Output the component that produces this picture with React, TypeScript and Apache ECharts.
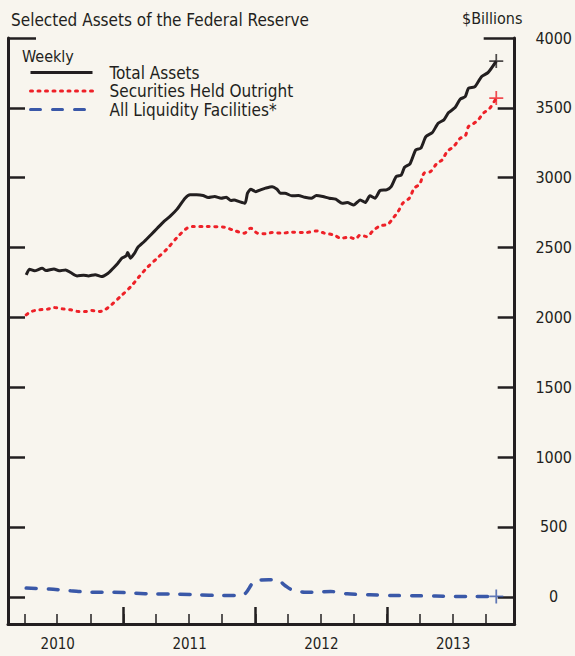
import React, { useEffect, useRef } from "react";
import * as echarts from "echarts";

// ---------- data (weekly, $ billions) ----------
const totalDates = [
  "2010-04-06","2010-04-15","2010-04-29","2010-05-20","2010-05-31","2010-06-22","2010-07-06","2010-07-24",
  "2010-08-07","2010-08-25","2010-09-12","2010-09-25","2010-10-14","2010-11-01","2010-11-19","2010-12-03",
  "2010-12-16","2010-12-27","2011-01-08","2011-01-12","2011-01-20","2011-01-31","2011-02-09","2011-02-27",
  "2011-03-17","2011-04-04","2011-04-22","2011-05-10","2011-05-29","2011-06-20","2011-07-04","2011-07-22",
  "2011-08-09","2011-08-23","2011-09-10","2011-09-28","2011-10-12","2011-10-25","2011-11-03","2011-11-17",
  "2011-12-03","2011-12-10","2011-12-19","2012-01-02","2012-01-15","2012-01-29","2012-02-16","2012-03-01",
  "2012-03-10","2012-03-23","2012-04-11","2012-04-29","2012-05-17","2012-06-04","2012-06-18","2012-07-06",
  "2012-07-24","2012-08-11","2012-08-29","2012-09-12","2012-09-30","2012-10-18","2012-11-01","2012-11-14",
  "2012-11-28","2012-12-12","2012-12-30","2013-01-12","2013-01-26","2013-02-09","2013-02-18","2013-03-05",
  "2013-03-21","2013-04-04","2013-04-18","2013-05-06","2013-05-22","2013-06-07","2013-06-20","2013-07-08",
  "2013-07-22","2013-08-05","2013-08-14","2013-09-01","2013-09-19","2013-10-07","2013-10-30",
];
const totalAssets = [
  2304, 2345, 2333, 2352, 2335, 2347, 2333, 2340,
  2321, 2297, 2302, 2297, 2306, 2292, 2316, 2352,
  2388, 2424, 2440, 2464, 2424, 2459, 2500, 2543,
  2590, 2638, 2686, 2725, 2775, 2853, 2877, 2877,
  2872, 2858, 2865, 2853, 2860, 2836, 2841, 2829,
  2817, 2889, 2917, 2900, 2913, 2925, 2936, 2917,
  2889, 2889, 2870, 2872, 2860, 2853, 2872, 2865,
  2853, 2846, 2817, 2822, 2805, 2841, 2822, 2870,
  2853, 2908, 2913, 2936, 3008, 3020, 3075, 3099,
  3199, 3211, 3294, 3323, 3390, 3414, 3466, 3502,
  3562, 3580, 3640, 3652, 3723, 3752, 3835,
];

const securitiesDates = [
  "2010-04-06","2010-04-20","2010-05-12","2010-06-04","2010-06-22","2010-07-15","2010-08-07","2010-08-29",
  "2010-09-16","2010-10-04","2010-10-27","2010-11-10","2010-11-28","2010-12-25","2011-01-21","2011-02-13",
  "2011-03-08","2011-04-04","2011-05-01","2011-05-29","2011-06-25","2011-07-13","2011-08-18","2011-10-07",
  "2011-10-30","2011-12-01","2011-12-19","2012-01-06","2012-01-29","2012-02-16","2012-03-14","2012-04-11",
  "2012-05-17","2012-06-22","2012-07-10","2012-08-06","2012-08-25","2012-09-16","2012-10-05","2012-10-18",
  "2012-11-05","2012-11-23","2012-12-12","2013-01-03","2013-01-17","2013-01-31","2013-02-13","2013-03-03",
  "2013-03-17","2013-04-01","2013-04-13","2013-05-01","2013-05-19","2013-06-02","2013-06-16","2013-07-04",
  "2013-07-22","2013-08-05","2013-08-14","2013-08-27","2013-09-10","2013-09-24","2013-10-12","2013-10-30",
];
const securitiesHeld = [
  2018, 2042, 2054, 2059, 2070, 2061, 2054, 2042,
  2042, 2049, 2042, 2054, 2090, 2154, 2221, 2292,
  2359, 2424, 2490, 2572, 2638, 2650, 2650, 2646,
  2626, 2603, 2638, 2603, 2598, 2607, 2603, 2610,
  2607, 2619, 2603, 2590, 2567, 2574, 2562, 2590,
  2578, 2621, 2655, 2667, 2710, 2757, 2817, 2853,
  2925, 2955, 3032, 3044, 3104, 3127, 3187, 3223,
  3282, 3299, 3366, 3385, 3414, 3461, 3497, 3570,
];

const liquidityDates = [
  "2010-04-06","2010-06-09","2010-08-07","2010-10-04","2010-12-03","2011-01-31","2011-03-31","2011-05-29",
  "2011-07-27","2011-09-24","2011-11-22","2011-12-05","2011-12-24","2012-01-06","2012-02-07","2012-03-01",
  "2012-03-23","2012-04-11","2012-05-17","2012-06-13","2012-07-28","2012-09-12","2012-11-14","2013-01-17",
  "2013-03-21","2013-05-15","2013-07-08","2013-09-01","2013-10-30",
];
const liquidityFacilities = [
  62, 55, 43, 33, 33, 26, 19, 19,
  14, 9, 9, 26, 98, 117, 122, 122,
  81, 50, 33, 33, 38, 21, 14, 9,
  7, 5, 2, 2, 2,
];

const seriesNames = ["Total Assets", "Securities Held Outright", "All Liquidity Facilities*"];
const yearLabels = ["2010", "2011", "2012", "2013"];
const yearTicks = ["2011-01-01", "2012-01-01", "2013-01-01"];
const quarterTicks = [
  "2010-04-01","2010-07-01","2010-10-01","2011-01-01","2011-04-01","2011-07-01","2011-10-01",
  "2012-01-01","2012-04-01","2012-07-01","2012-10-01","2013-01-01","2013-04-01","2013-07-01","2013-10-01",
];
const yTickValues = [0, 500, 1000, 1500, 2000, 2500, 3000, 3500];
const yLabelValues = [0, 500, 1000, 1500, 2000, 2500, 3000, 3500, 4000];

// ---------- helpers ----------
function toYear(d: string): number {
  const [y, m, day] = d.split("-").map(Number);
  const start = Date.UTC(y, 0, 1);
  const end = Date.UTC(y + 1, 0, 1);
  return y + (Date.UTC(y, m - 1, day) - start) / (end - start);
}
function pairs(dates: string[], vals: number[]): number[][] {
  return dates.map((d, i) => [toYear(d), vals[i]]);
}
function last(dates: string[], vals: number[]): number[][] {
  return [[toYear(dates[dates.length - 1]), vals[vals.length - 1]]];
}

const FONT = "'Liberation Sans Narrow', 'DejaVu Sans Condensed', 'Arial Narrow', 'Liberation Sans', sans-serif";
const INK = "#231f20";
const RED = "#ee2128";
const BLUE = "#3a58a8";
const BG = "#f8f5ee";
const X_MIN = 2010.1222;
const X_MAX = 2013.9672;
const Y_MIN = -195;
const Y_MAX = 4000;
const PLUS = "path://M7,0H9V7H16V9H9V16H7V9H0V7H7Z";

export default function App() {
  const ref = useRef<HTMLDivElement>(null);
  useEffect(() => {
    if (!ref.current) return;
    const chart = echarts.init(ref.current, undefined, { renderer: "svg" });
    const baseY = {
      type: "value",
      min: Y_MIN,
      max: Y_MAX,
      splitLine: { show: false },
    };
    const baseX = {
      type: "value",
      min: X_MIN,
      max: X_MAX,
      splitLine: { show: false },
    };
    chart.setOption({
      animation: false,
      backgroundColor: BG,
      textStyle: { fontFamily: FONT },
      title: {
        text: "Selected Assets of the Federal Reserve",
        left: 6,
        top: 6,
        textStyle: { fontFamily: FONT, fontSize: 17, fontWeight: "normal", color: INK },
      },
      graphic: [
        {
          type: "text",
          left: 22,
          top: 48,
          style: { text: "Weekly", fontFamily: FONT, fontSize: 16, fill: INK },
        },
        {
          type: "text",
          left: 462,
          top: 10,
          style: { text: "$Billions", fontFamily: FONT, fontSize: 16, fill: INK },
        },
      ],
      legend: {
        data: seriesNames,
        orient: "vertical",
        left: 29,
        top: 64,
        padding: 0,
        itemWidth: 62,
        itemHeight: 10,
        itemGap: 1.5,
        selectedMode: false,
        itemStyle: { opacity: 0 },
        lineStyle: { width: 3 },
        textStyle: { fontFamily: FONT, fontSize: 17, color: INK, padding: [0, 0, 0, 12] },
      },
      grid: { left: 8, right: 51, top: 38, bottom: 32, containLabel: false },
      xAxis: [
        {
          ...baseX,
          position: "bottom",
          axisLine: { show: true, onZero: false, lineStyle: { color: INK, width: 3 } },
          axisTick: {
            show: true,
            inside: true,
            length: 10,
            lineStyle: { color: INK, width: 1.5 },
            customValues: quarterTicks.map(toYear),
          },
          axisLabel: {
            show: true,
            margin: 12,
            color: INK,
            fontFamily: FONT,
            fontSize: 15,
            customValues: yearLabels.map((y) => Number(y) + 0.5),
            formatter: (v: number) => yearLabels[Math.floor(v) - 2010] ?? "",
          },
        },
        {
          ...baseX,
          position: "bottom",
          axisLine: { show: false, onZero: false },
          axisTick: {
            show: true,
            inside: true,
            length: 17,
            lineStyle: { color: INK, width: 2.5 },
            customValues: yearTicks.map(toYear),
          },
          axisLabel: { show: false },
        },
      ],
      yAxis: [
        {
          ...baseY,
          position: "right",
          axisLine: { show: true, onZero: false, lineStyle: { color: INK, width: 3 } },
          axisTick: {
            show: true,
            inside: true,
            length: 17,
            lineStyle: { color: INK, width: 2.5 },
            customValues: yTickValues,
          },
          axisLabel: {
            show: true,
            margin: 39,
            align: "center",
            color: INK,
            fontFamily: FONT,
            fontSize: 16,
            customValues: yLabelValues,
            formatter: (v: number) => String(v),
          },
        },
        {
          ...baseY,
          position: "left",
          axisLine: { show: true, onZero: false, lineStyle: { color: INK, width: 3 } },
          axisTick: {
            show: true,
            inside: true,
            length: 17,
            lineStyle: { color: INK, width: 2.5 },
            customValues: yTickValues,
          },
          axisLabel: { show: false },
        },
        {
          ...baseY,
          position: "right",
          axisLine: { show: false, onZero: false },
          axisTick: {
            show: true,
            inside: true,
            length: 31,
            lineStyle: { color: INK, width: 2.5 },
            customValues: [Y_MAX],
          },
          axisLabel: { show: false },
        },
        {
          ...baseY,
          position: "left",
          axisLine: { show: false, onZero: false },
          axisTick: {
            show: true,
            inside: true,
            length: 28,
            lineStyle: { color: INK, width: 2.5 },
            customValues: [Y_MAX],
          },
          axisLabel: { show: false },
        },
      ],
      series: [
        {
          name: seriesNames[0],
          type: "line",
          data: pairs(totalDates, totalAssets),
          symbol: "none",
          smooth: 0.2,
          color: INK,
          lineStyle: { color: INK, width: 3, join: "round" },
        },
        {
          name: seriesNames[1],
          type: "line",
          data: pairs(securitiesDates, securitiesHeld),
          symbol: "none",
          smooth: 0.3,
          color: RED,
          lineStyle: { color: RED, width: 3, type: [2, 5.5], cap: "round" },
        },
        {
          name: seriesNames[2],
          type: "line",
          data: pairs(liquidityDates, liquidityFacilities),
          symbol: "none",
          smooth: 0.3,
          color: BLUE,
          lineStyle: { color: BLUE, width: 3.5, type: [10, 12], cap: "round" },
        },
        {
          name: "Total Assets latest",
          type: "scatter",
          data: last(totalDates, totalAssets),
          symbol: PLUS,
          symbolSize: 14,
          itemStyle: { color: INK },
          z: 5,
        },
        {
          name: "Securities latest",
          type: "scatter",
          data: last(securitiesDates, securitiesHeld),
          symbol: PLUS,
          symbolSize: 14,
          itemStyle: { color: RED },
          z: 5,
        },
        {
          name: "Liquidity latest",
          type: "scatter",
          data: last(liquidityDates, liquidityFacilities),
          symbol: PLUS,
          symbolSize: 14,
          itemStyle: { color: BLUE },
          z: 5,
        },
      ],
    });
    return () => chart.dispose();
  }, []);
  return (
    <div
      ref={ref}
      style={{ position: "absolute", left: 0, top: 0, width: 575, height: 656, background: BG }}
    />
  );
}
